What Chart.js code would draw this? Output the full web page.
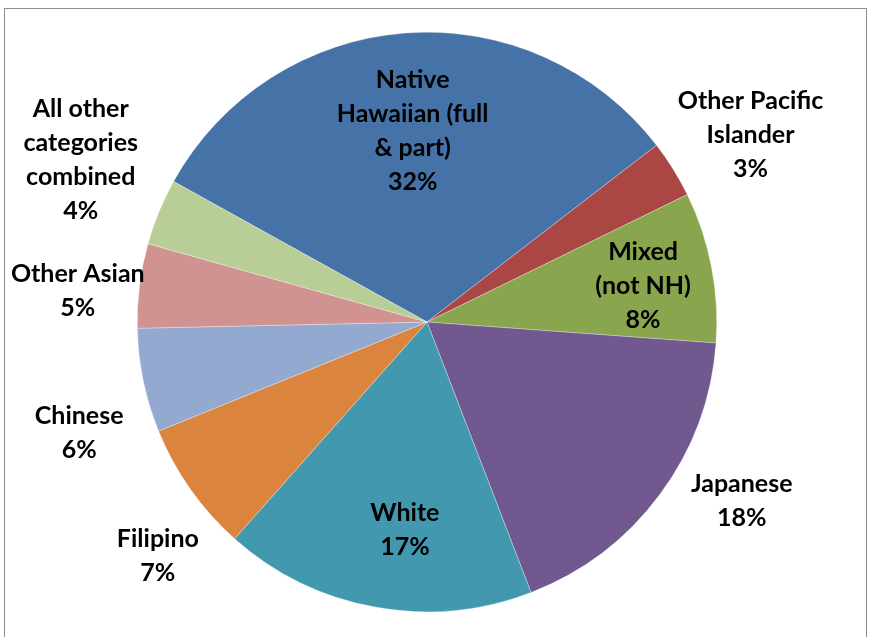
<!DOCTYPE html>
<html>
<head>
<meta charset="utf-8">
<script src="https://cdn.jsdelivr.net/npm/chart.js@4/dist/chart.umd.min.js"></script>
<style>
  body { margin: 0; background: #fff; }
  #wrap { position: relative; width: 875px; height: 637px; overflow: hidden; }
  #frame { position: absolute; left: 4px; top: 8px; width: 863px; height: 700px; border: 1px solid #8c8c8c; box-sizing: border-box; }
  canvas { position: absolute; left: 0; top: 0; }
</style>
</head>
<body>
<div id="wrap">
  <div id="frame"></div>
  <canvas id="pie" width="875" height="637"></canvas>
</div>
<script>
// slices, clockwise from the top-left
const categories = [
    ['Native', 'Hawaiian (full', '& part)'],
    ['Other Pacific', 'Islander'],
    ['Mixed', '(not NH)'],
    ['Japanese'],
    ['White'],
    ['Filipino'],
    ['Chinese'],
    ['Other Asian'],
    ['All other', 'categories', 'combined']
];
const shares = [31.5, 3.2, 8.4, 18.0, 17.4, 7.3, 5.8, 4.7, 3.7];
const colors = ['#4572A7', '#AA4643', '#89A54E', '#71588F', '#4198AF',
                '#DB843D', '#93A9CF', '#D19392', '#B9CD96'];

// where each label sits: fraction of the radius, and a nudge off the mid angle (deg)
const labelRadius = [0.66, 1.29, 0.756, 1.25, 0.72, 1.23, 1.26, 1.21, 1.32];
const labelNudge = [0, 1.8, 1.5, -6.9, -4.2, -5.7, -6, -2.1, 2.8];

const total = shares.reduce((a, b) => a + b, 0);

const sliceLabels = {
    id: 'sliceLabels',
    afterDatasetsDraw(chart) {
        const ctx = chart.ctx;
        const meta = chart.getDatasetMeta(0);
        ctx.save();
        ctx.font = 'bold 25px Lato';
        ctx.fillStyle = '#000';
        ctx.textAlign = 'center';
        ctx.textBaseline = 'middle';
        const lineH = 34;
        meta.data.forEach((arc, i) => {
            const a = (arc.startAngle + arc.endAngle) / 2 + labelNudge[i] * Math.PI / 180;
            const r = arc.outerRadius * labelRadius[i];
            const cx = arc.x + Math.cos(a) * r;
            const cy = arc.y + Math.sin(a) * r;
            const lines = categories[i].concat([Math.round(shares[i] / total * 100) + '%']);
            const top = cy - (lines.length - 1) * lineH / 2;
            lines.forEach((t, k) => ctx.fillText(t, cx, top + k * lineH));
        });
        ctx.restore();
    }
};

new Chart(document.getElementById('pie'), {
    type: 'pie',
    data: {
        labels: categories,
        datasets: [{
            data: shares,
            backgroundColor: colors,
            borderWidth: 0.5,
            borderColor: 'rgba(255,255,255,0.6)'
        }]
    },
    options: {
        responsive: false,
        animation: false,
        rotation: -61,
        layout: { padding: { top: 32, bottom: 25, left: 100, right: 121 } },
        plugins: {
            legend: { display: false },
            tooltip: { enabled: false }
        }
    },
    plugins: [sliceLabels]
});
</script>
</body>
</html>
